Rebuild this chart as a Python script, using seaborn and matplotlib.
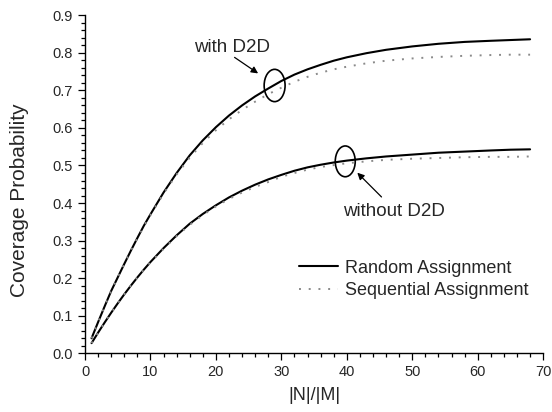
import numpy as np
import pandas as pd
import matplotlib
matplotlib.use("Agg")
import matplotlib.pyplot as plt
from matplotlib.patches import Ellipse
from matplotlib.ticker import MultipleLocator, FormatStrFormatter
import seaborn as sns

# ---- data ----
n_ratio = [1, 2, 3, 4, 5, 6, 7, 8, 9, 10, 12, 14, 16, 18, 20, 22, 24, 26, 28, 30,
           32, 34, 36, 38, 40, 43, 46, 50, 54, 58, 62, 65, 68]

random_d2d = [0.040, 0.083, 0.125, 0.166, 0.202, 0.238, 0.273, 0.307, 0.340, 0.370,
              0.428, 0.480, 0.527, 0.567, 0.602, 0.633, 0.660, 0.684, 0.705, 0.725,
              0.742, 0.756, 0.768, 0.779, 0.788, 0.799, 0.808, 0.817, 0.824, 0.829,
              0.832, 0.834, 0.836]
sequential_d2d = [0.040, 0.083, 0.125, 0.166, 0.202, 0.238, 0.273, 0.306, 0.338, 0.368,
                  0.425, 0.476, 0.521, 0.560, 0.594, 0.623, 0.648, 0.670, 0.690, 0.707,
                  0.723, 0.736, 0.747, 0.756, 0.763, 0.772, 0.779, 0.785, 0.789, 0.792,
                  0.794, 0.795, 0.795]
random_no_d2d = [0.027, 0.055, 0.082, 0.108, 0.133, 0.157, 0.180, 0.202, 0.223, 0.243,
                 0.280, 0.314, 0.345, 0.371, 0.394, 0.415, 0.433, 0.449, 0.463, 0.475,
                 0.486, 0.495, 0.502, 0.508, 0.513, 0.519, 0.524, 0.529, 0.534, 0.537,
                 0.540, 0.542, 0.543]
sequential_no_d2d = [0.027, 0.055, 0.082, 0.108, 0.133, 0.157, 0.180, 0.202, 0.222, 0.242,
                     0.278, 0.312, 0.342, 0.368, 0.391, 0.411, 0.428, 0.443, 0.456, 0.470,
                     0.480, 0.489, 0.496, 0.501, 0.506, 0.511, 0.515, 0.518, 0.520, 0.522,
                     0.523, 0.523, 0.524]

legend_labels = ["Random Assignment", "Sequential Assignment"]
x_label = "|N|/|M|"
y_label = "Coverage Probability"

sns.set_style("ticks")
plt.rcParams['font.family'] = ['Liberation Sans', 'DejaVu Sans']

fig = plt.figure(figsize=(5.52, 4.12), dpi=100)
ax = fig.add_axes([0.154, 0.1425, 0.830, 0.8205])

solid_kw = dict(color="black", linewidth=1.5, linestyle="-")
dot_kw = dict(color="#8a8a8a", linewidth=1.4, linestyle=(0, (1, 4)))

df = pd.DataFrame({"x": n_ratio, "rw": random_d2d, "sw": sequential_d2d,
                   "rn": random_no_d2d, "sn": sequential_no_d2d})

sns.lineplot(data=df, x="x", y="rw", ax=ax, **solid_kw, label=legend_labels[0])
sns.lineplot(data=df, x="x", y="sw", ax=ax, **dot_kw, label=legend_labels[1])
sns.lineplot(data=df, x="x", y="rn", ax=ax, **solid_kw)
sns.lineplot(data=df, x="x", y="sn", ax=ax, **dot_kw)

ax.set_xlim(0, 70)
ax.set_ylim(0, 0.9)
ax.xaxis.set_major_locator(MultipleLocator(10))
ax.xaxis.set_minor_locator(MultipleLocator(2))
ax.yaxis.set_major_locator(MultipleLocator(0.1))
ax.yaxis.set_minor_locator(MultipleLocator(0.02))
ax.yaxis.set_major_formatter(FormatStrFormatter("%.1f"))
ax.tick_params(which="major", direction="out", length=5, width=0.9, labelsize=10.5, color="black")
ax.tick_params(which="minor", direction="out", length=3, width=0.9, color="black")
for s in ["top", "right"]:
    ax.spines[s].set_visible(False)
for s in ["left", "bottom"]:
    ax.spines[s].set_linewidth(1.0)
    ax.spines[s].set_color("black")

ax.set_xlabel(x_label, fontsize=13, labelpad=6)
ax.set_ylabel(y_label, fontsize=15)
ax.yaxis.set_label_coords(-0.123, 0.4535)

# annotations
ax.add_patch(Ellipse((28.97, 0.713), 3.2, 0.086, fill=False, edgecolor="black", linewidth=1.2))
ax.add_patch(Ellipse((39.76, 0.511), 3.05, 0.082, fill=False, edgecolor="black", linewidth=1.2))
ax.annotate("", xy=(26.8, 0.741), xytext=(22.5, 0.792),
            arrowprops=dict(arrowstyle="-|>", color="black", lw=0.9, mutation_scale=10))
ax.annotate("", xy=(41.3, 0.486), xytext=(45.6, 0.411),
            arrowprops=dict(arrowstyle="-|>", color="black", lw=0.9, mutation_scale=10))
ax.text(16.7, 0.803, "with D2D", fontsize=13.5, ha="left", va="baseline")
ax.text(39.4, 0.3655, "without D2D", fontsize=13.5, ha="left", va="baseline")

leg = ax.legend(loc="upper left", bbox_to_anchor=(0.466, 0.277), frameon=False,
                fontsize=13, handlelength=2.2, handletextpad=0.35, labelspacing=0.32,
                borderpad=0, borderaxespad=0)

fig.savefig("out.png", dpi=100)
